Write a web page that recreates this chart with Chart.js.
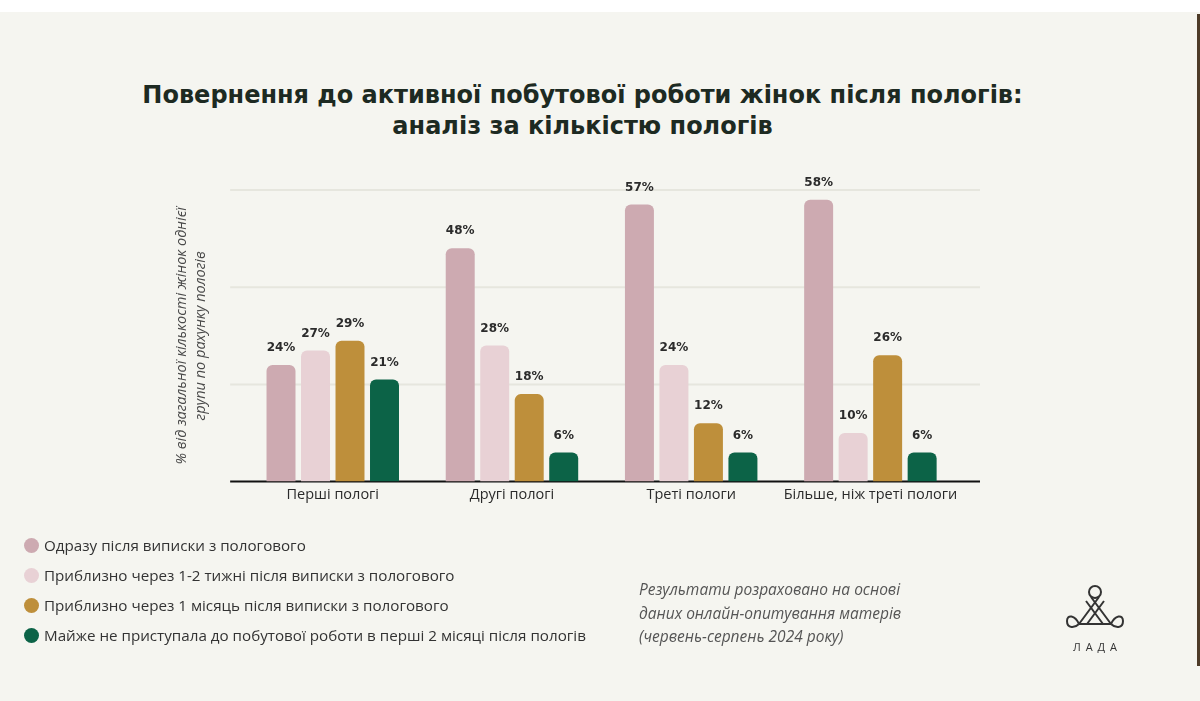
<!DOCTYPE html>
<html>
<head>
<meta charset="utf-8">
<script src="https://cdn.jsdelivr.net/npm/chart.js@4"></script>
<style>
  html, body { margin: 0; padding: 0; }
  body { width: 1200px; height: 701px; background: #f5f5f0; position: relative; overflow: hidden; font-family: "Open Sans", sans-serif; }
  #topband { position: absolute; left: 0; top: 0; width: 1200px; height: 12px; background: #ffffff; }
  #edge { position: absolute; left: 1197px; top: 14px; width: 3px; height: 652px; background: #4d3b28; }
  #title { position: absolute; left: 0; top: 80px; width: 1165px; text-align: center; font-family: "DejaVu Sans", sans-serif; font-weight: bold; font-size: 24px; line-height: 31px; color: #1d2a22; }
  #chart-container { position: absolute; left: 0; top: 0; width: 1200px; height: 701px; }
  #legend { position: absolute; left: 24px; top: 530px; }
  .item { display: flex; align-items: center; height: 30px; font-size: 15.2px; color: #333; }
  .dot { width: 15px; height: 15px; border-radius: 50%; margin-right: 5px; }
  #note { position: absolute; left: 639px; top: 578px; font-style: italic; font-size: 15.5px; line-height: 23.5px; color: #555; }
  #logo { position: absolute; left: 1065px; top: 584px; width: 60px; text-align: center; }
  #logo span { display: block; font-size: 11px; letter-spacing: 5px; color: #333; margin-top: 0px; padding-left: 5px; }
</style>
</head>
<body>
<div id="topband"></div>
<div id="edge"></div>
<div id="title">Повернення до активної побутової роботи жінок після пологів:<br>аналіз за кількістю пологів</div>
<div id="chart-container"></div>
<div id="legend"></div>
<div id="note">Результати розраховано на основі<br>даних онлайн-опитування матерів<br>(червень-серпень 2024 року)</div>
<div id="logo">
  <svg width="60" height="50" viewBox="0 0 60 50" fill="none" stroke="#333" stroke-width="2">
    <circle cx="30" cy="8" r="6"/>
    <path d="M26 13 L46 40 M34 13 L14 40"/>
    <path d="M21 17 L38 40 M39 17 L22 40"/>
    <path d="M14 40 L46 40"/>
    <path d="M14 40 C10 31 2 30 2 37 C2 45 10 44 14 40"/>
    <path d="M46 40 C50 31 58 30 58 37 C58 45 50 44 46 40"/>
  </svg>
  <span>ЛАДА</span>
</div>
<script>
const categories = ["Перші пологі", "Другі пологі", "Треті пологи", "Більше, ніж треті пологи"];
const seriesNames = [
  "Одразу після виписки з пологового",
  "Приблизно через 1-2 тижні після виписки з пологового",
  "Приблизно через 1 місяць після виписки з пологового",
  "Майже не приступала до побутової роботи в перші 2 місяці після пологів"
];
const immediately = [24, 48, 57, 58];
const afterWeeks = [27, 28, 24, 10];
const afterMonth = [29, 18, 12, 26];
const notStarted = [21, 6, 6, 6];
const colors = ["#cdaab1", "#e8d1d5", "#be8f3b", "#0c6347"];

// gridlines run a bit past the bars on both sides, so draw them here
const lines = {
  id: 'lines',
  beforeDatasetsDraw(chart) {
    const ctx = chart.ctx;
    const area = chart.chartArea;
    const y = chart.scales.y;
    ctx.save();
    y.ticks.forEach(t => {
      const py = y.getPixelForValue(t.value);
      ctx.beginPath();
      ctx.lineWidth = 2;
      ctx.strokeStyle = t.value === 0 ? '#111111' : '#e6e6de';
      ctx.moveTo(area.left - 13, py);
      ctx.lineTo(area.right + 20, py);
      ctx.stroke();
    });
    ctx.restore();
  }
};

const valueLabels = {
  id: 'valueLabels',
  afterDatasetsDraw(chart) {
    const ctx = chart.ctx;
    ctx.save();
    ctx.font = "bold 12px 'DejaVu Sans'";
    ctx.fillStyle = "#2b2b2b";
    ctx.textAlign = "center";
    ctx.textBaseline = "middle";
    chart.data.datasets.forEach((ds, i) => {
      chart.getDatasetMeta(i).data.forEach((bar, j) => {
        ctx.fillText(ds.data[j] + "%", bar.x, bar.y - 17);
      });
    });
    ctx.restore();
  }
};

const chartContainer = document.querySelector('#chart-container');
const canvas = document.createElement('canvas');
canvas.width = 1200;
canvas.height = 701;
chartContainer.appendChild(canvas);

const series = [immediately, afterWeeks, afterMonth, notStarted];
const chart = new Chart(canvas, {
  type: 'bar',
  data: {
    labels: categories,
    datasets: series.map((values, i) => ({
      label: seriesNames[i],
      data: values,
      backgroundColor: colors[i],
      borderRadius: { topLeft: 6, topRight: 6, bottomLeft: 0, bottomRight: 0 },
      borderSkipped: false,
      categoryPercentage: 0.77,
      barPercentage: 0.84
    }))
  },
  options: {
    responsive: false,
    maintainAspectRatio: false,
    animation: false,
    layout: {
      padding: { left: 172, right: 240, top: 190, bottom: 192 }
    },
    scales: {
      x: {
        grid: { display: false, drawTicks: false },
        border: { display: false },
        ticks: { color: '#2a2a2a', font: { family: 'Open Sans', size: 14.5 }, padding: 5, maxRotation: 0, minRotation: 0, autoSkip: false }
      },
      y: {
        min: 0,
        max: 60,
        ticks: { display: false, stepSize: 20 },
        grid: { display: false, drawTicks: false },
        border: { display: false },
        title: {
          display: true,
          text: ["% від загальної кількості жінок однієї", "групи по рахунку пологів"],
          color: '#4a4a4a',
          font: { family: 'Open Sans', size: 14.5, style: 'italic', lineHeight: 1.35 },
          padding: { top: 0, bottom: 32 }
        }
      }
    },
    plugins: {
      legend: { display: false },
      tooltip: { enabled: false },
      title: { display: false }
    }
  },
  plugins: [lines, valueLabels]
});

const legend = document.querySelector('#legend');
chart.data.datasets.forEach(ds => {
  const item = document.createElement('div');
  item.className = 'item';
  const dot = document.createElement('div');
  dot.className = 'dot';
  dot.style.background = ds.backgroundColor;
  const text = document.createElement('div');
  text.textContent = ds.label;
  item.appendChild(dot);
  item.appendChild(text);
  legend.appendChild(item);
});
</script>
</body>
</html>
